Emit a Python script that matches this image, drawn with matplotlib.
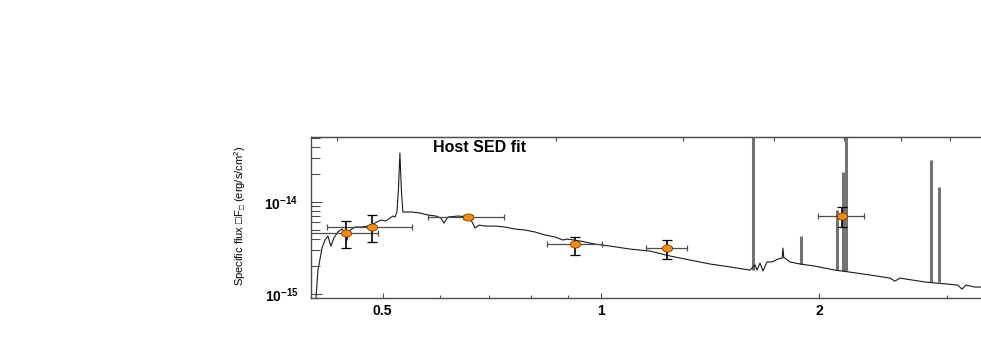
import numpy as np
import matplotlib
matplotlib.use("Agg")
import matplotlib.pyplot as plt
from matplotlib.path import Path
from matplotlib.transforms import Affine2D
from matplotlib.ticker import FixedLocator, NullFormatter, LogFormatterSciNotation

plt.rcParams['font.family'] = ['Liberation Sans', 'DejaVu Sans']
plt.rcParams['mathtext.fontset'] = 'custom'
plt.rcParams['mathtext.rm'] = 'Liberation Sans'
plt.rcParams['mathtext.it'] = 'Liberation Sans:italic'
plt.rcParams['mathtext.bf'] = 'Liberation Sans:bold'
plt.rcParams['mathtext.default'] = 'regular'

# ============================================================
# DATA (observed wavelength in micron, flux in erg/s/cm^2)
# ============================================================

# host model continuum
model_wave = [0.4044, 0.4070, 0.4123, 0.4161, 0.4200, 0.4241, 0.4281, 0.4336,
              0.4393, 0.4434, 0.4463, 0.4491, 0.4577, 0.4680, 0.4770, 0.4878,
              0.4971, 0.5050, 0.5117, 0.5164, 0.5198, 0.5230, 0.5255, 0.5280,
              0.5305, 0.5330, 0.5485, 0.5628, 0.5771, 0.5920, 0.6015, 0.6072,
              0.6151, 0.6351, 0.6557, 0.6641, 0.6705, 0.6791, 0.6918, 0.7142,
              0.7373, 0.7611, 0.7856, 0.8110, 0.8372, 0.8642, 0.8863, 0.8977,
              0.9354, 0.9811, 1.0290, 1.0965, 1.1685, 1.2451, 1.3268, 1.4137,
              1.5065, 1.6054, 1.6312, 1.6416, 1.6573, 1.6730, 1.6943, 1.7215,
              1.7545, 1.7783, 1.7824, 1.7878, 1.7941, 1.8229, 1.8817, 1.9731,
              2.1026, 2.2050, 2.3496, 2.5036, 2.5437, 2.5846, 2.7989, 2.9824,
              3.1078, 3.1477, 3.1878, 3.2809, 3.4400]
model_flux = [9.05e-16, 1.82e-15, 3.16e-15, 3.86e-15, 4.27e-15, 3.32e-15, 4.06e-15, 4.72e-15,
              5.09e-15, 4.72e-15, 3.86e-15, 4.84e-15, 5.35e-15, 5.35e-15, 5.48e-15, 5.91e-15,
              6.37e-15, 6.22e-15, 6.70e-15, 7.04e-15, 6.87e-15, 7.78e-15, 1.35e-14, 3.41e-14,
              1.35e-14, 7.78e-15, 7.78e-15, 7.59e-15, 7.22e-15, 7.04e-15, 6.70e-15, 5.91e-15,
              6.87e-15, 7.04e-15, 6.87e-15, 6.06e-15, 5.22e-15, 5.62e-15, 5.48e-15, 5.48e-15,
              5.35e-15, 5.09e-15, 4.96e-15, 4.72e-15, 4.38e-15, 4.17e-15, 3.86e-15, 3.96e-15,
              3.77e-15, 3.49e-15, 3.32e-15, 3.08e-15, 2.93e-15, 2.59e-15, 2.34e-15, 2.12e-15,
              1.97e-15, 1.82e-15, 2.07e-15, 1.82e-15, 2.17e-15, 1.78e-15, 2.23e-15, 2.23e-15,
              2.40e-15, 2.46e-15, 3.16e-15, 2.46e-15, 2.46e-15, 2.23e-15, 2.12e-15, 2.01e-15,
              1.82e-15, 1.73e-15, 1.61e-15, 1.49e-15, 1.38e-15, 1.49e-15, 1.35e-15, 1.29e-15,
              1.25e-15, 1.13e-15, 1.25e-15, 1.19e-15, 1.19e-15]

# emission lines of the model
line_wave = [1.6208, 1.8875, 2.1161, 2.1571, 2.1776, 2.8524, 2.9256]
line_peak = [1.0e-13, 4.27e-15, 8.18e-15, 2.12e-14, 1.0e-13, 2.86e-14, 1.46e-14]
line_base = [1.82e-15, 2.12e-15, 1.82e-15, 1.80e-15, 1.78e-15, 1.36e-15, 1.34e-15]

# photometry
phot_wave = [0.4447, 0.4831, 0.6557, 0.9207, 1.2335, 2.1494]
phot_wave_lo = [0.0480, 0.0643, 0.0786, 0.0783, 0.0799, 0.1574]
phot_wave_hi = [0.0480, 0.0654, 0.0793, 0.0825, 0.0807, 0.1565]
phot_flux = [4.60e-15, 5.35e-15, 6.87e-15, 3.49e-15, 3.16e-15, 7.04e-15]
phot_flux_lo = [1.44e-15, 1.68e-15, 0.30e-15, 0.84e-15, 0.76e-15, 1.69e-15]
phot_flux_hi = [1.62e-15, 1.87e-15, 0.33e-15, 0.68e-15, 0.70e-15, 1.79e-15]

# axis ticks
x_major = [0.5, 1, 2]
x_major_labels = ["0.5", "1", "2"]
x_minor = [0.6, 0.7, 0.8, 0.9, 3]
y_major = [1e-15, 1e-14]

# top axis (rest frame) ticks
z_host = 0.082
top_ticks = [0.4, 0.8, 1.2, 1.6, 2.0, 2.4, 2.8]

# ============================================================
# PLOT
# ============================================================

fig = plt.figure(figsize=(9.81, 3.55), dpi=100)
ax = fig.add_axes([311 / 981, 57 / 355, 679 / 981, 161 / 355])

ax.set_xscale("log")
ax.set_yscale("log")
ax.set_xlim(0.3981, 3.441)
ax.set_ylim(9.05e-16, 5.09e-14)

ax.vlines(line_wave, line_base, line_peak, color="0.45", linewidth=2.2, zorder=2)
ax.plot(model_wave, model_flux, color="0.1", linewidth=0.8, zorder=3)

ax.errorbar(phot_wave, phot_flux, xerr=[phot_wave_lo, phot_wave_hi],
            fmt="none", ecolor="0.3", elinewidth=0.9, capsize=2.5, capthick=0.9, zorder=4)
ax.errorbar(phot_wave, phot_flux, yerr=[phot_flux_lo, phot_flux_hi],
            fmt="none", ecolor="black", elinewidth=1.2, capsize=3.5, capthick=0.9, zorder=4)

ellipse = Path.unit_circle().transformed(Affine2D().scale(1.45, 1.0))
ax.scatter(phot_wave, phot_flux, marker=ellipse, s=55, color="#ff8c00",
           edgecolor="#7a4000", linewidth=0.6, zorder=5)

# axes styling
for side in ["left", "top", "bottom"]:
    ax.spines[side].set_color("0.3")
    ax.spines[side].set_linewidth(1.0)
ax.spines["right"].set_visible(False)

ax.xaxis.set_major_locator(FixedLocator(x_major))
ax.xaxis.set_minor_locator(FixedLocator(x_minor))
ax.set_xticklabels(x_major_labels, fontweight="bold")
ax.xaxis.set_minor_formatter(NullFormatter())
ax.tick_params(axis="x", which="major", direction="in", length=3.5, width=0.8,
               color="0.3", top=False, pad=4, labelsize=10)
ax.tick_params(axis="x", which="minor", direction="in", length=2.5, width=0.8,
               color="0.3", top=False)

ax.yaxis.set_major_locator(FixedLocator(y_major))
ax.yaxis.set_major_formatter(LogFormatterSciNotation())
ax.tick_params(axis="y", which="major", direction="in", length=8, width=0.8,
               color="0.3", right=False, pad=9, labelsize=10)
ax.tick_params(axis="y", which="minor", direction="in", length=6.5, width=0.8,
               color="0.3", right=False)
for lab in ax.get_yticklabels():
    lab.set_fontweight("bold")

top = ax.secondary_xaxis("top", functions=(lambda w: w / (1 + z_host),
                                           lambda w: w * (1 + z_host)))
top.set_xticks(top_ticks)
top.set_xticklabels([])
top.xaxis.set_minor_locator(FixedLocator([]))
top.tick_params(axis="x", which="major", direction="in", length=3, width=0.8, color="0.3")
top.spines["top"].set_color("0.3")

ax.set_ylabel("Specific flux \u25a1F$_{\u25a1}$ (erg/s/cm$^2$)", fontsize=8)
ax.yaxis.set_label_coords(-0.093, 0.51)

ax.text(0.18, 0.932, "Host SED fit", transform=ax.transAxes, fontsize=11.5,
        fontweight="bold", va="center", ha="left")

fig.savefig("out.png", dpi=100)
